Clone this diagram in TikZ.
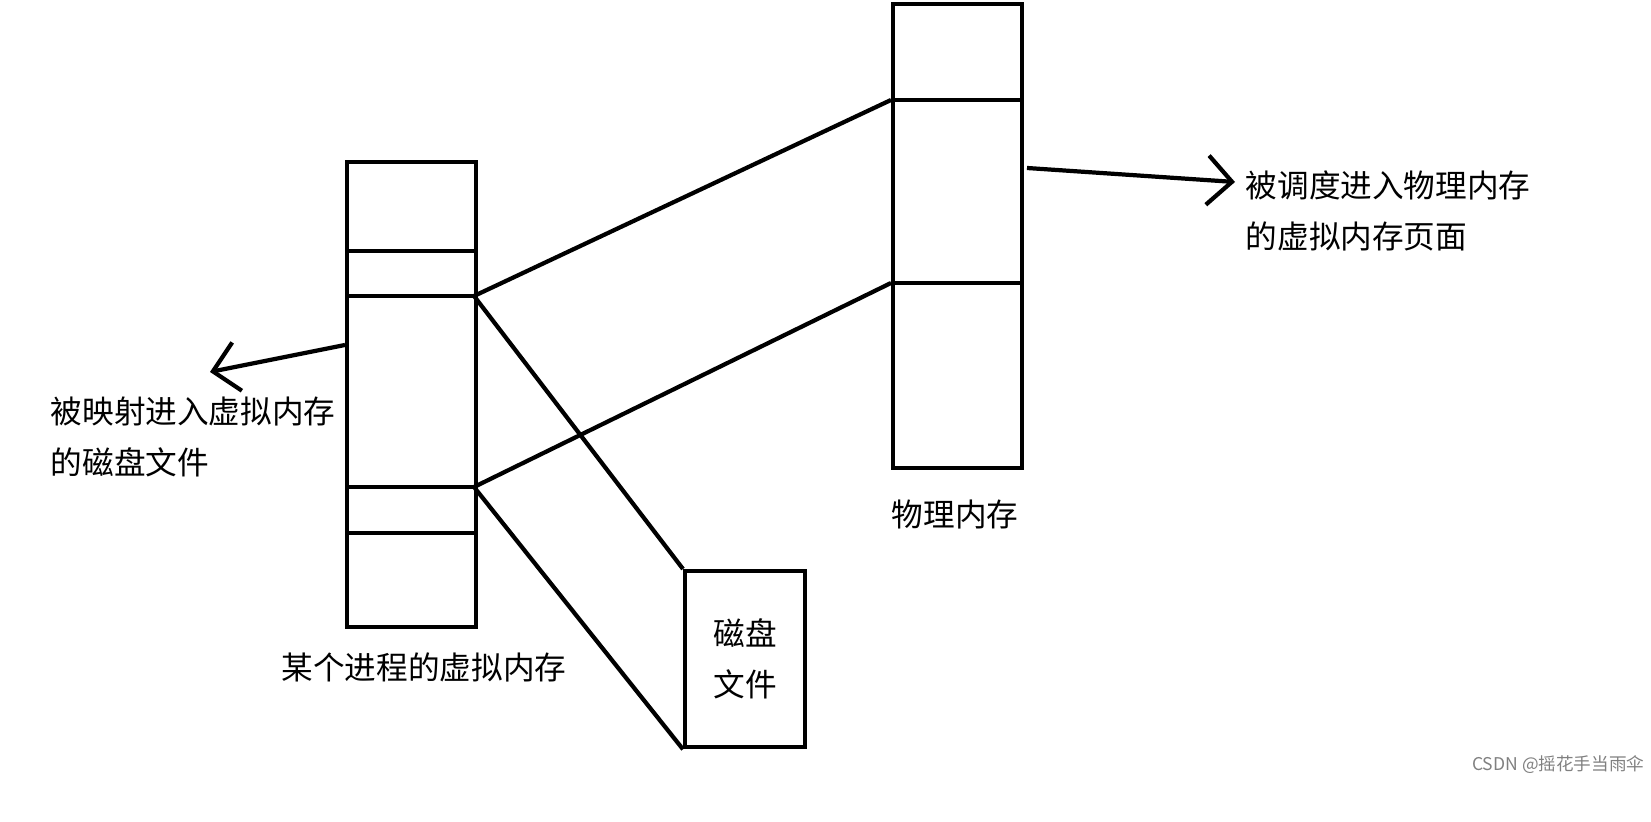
\documentclass[tikz,border=0pt]{standalone}
\usepackage{fontspec}
\newfontfamily\cjk{Noto Sans CJK SC}
\usetikzlibrary{positioning, arrows.meta}

\begin{document}
\begin{tikzpicture}[x=0.01cm, y=-0.01cm,
		box/.style={draw, line width=1.2pt, inner sep=0pt},
		wire/.style={line width=1.2pt},
		pointer/.style={line width=1.2pt, -{Straight Barb[length=7pt, width=14pt, line width=1.2pt]}},
		label/.style={font=\cjk\fontsize{9pt}{14.5pt}\selectfont, inner sep=0pt}]
	
	\useasboundingbox (0,0) rectangle (1651,822);
	
	% virtual memory of the process
	\node[box, anchor=north west, minimum width=1.29cm, minimum height=4.65cm] (vm) at (345,160) {};
	\coordinate (vm1) at (474,296);
	\coordinate (vm2) at (474,487);
	\draw[wire] (345,251) -- (474,251);
	\draw[wire] (345,296) -- (vm1);
	\draw[wire] (345,487) -- (vm2);
	\draw[wire] (345,533) -- (474,533);
	
	% physical memory
	\node[box, anchor=north west, minimum width=1.29cm, minimum height=4.64cm] (pm) at (891,2) {};
	\coordinate (pm1) at (891,100);
	\coordinate (pm2) at (891,283);
	\draw[wire] (pm1) -- (1020,100);
	\draw[wire] (pm2) -- (1020,283);
	
	% disk file
	\node[box, anchor=north west, minimum width=1.20cm, minimum height=1.76cm,
		label, align=center, font=\cjk\fontsize{9pt}{14.5pt}\selectfont] (disk) at (683,569) {磁盘\\文件};
	
	\draw[wire] (vm1) -- (pm1);
	\draw[wire] (vm2) -- (pm2);
	\draw[wire] (vm1) -- (disk.north west);
	\draw[wire] (vm2) -- (disk.south west);
	
	% labels
	\coordinate (a1) at (345,345);
	\node[label, anchor=north west, align=left] (mapped) at (50,396) {被映射进入虚拟内存\\的磁盘文件};
	\draw[pointer] (a1) -- (210,372);
	\coordinate (a2) at (1027,168);
	\node[label, anchor=north west, align=left] (paged) at (1245,170) {被调度进入物理内存\\的虚拟内存页面};
	\draw[pointer] (a2) -- (1235,182);
	
	\node[label] (pmname) at (955,515) {物理内存};
	\node[label] (vmname) at (424,667) {某个进程的虚拟内存};
	\node[label, font=\cjk\fontsize{5pt}{6pt}\selectfont, text=gray, anchor=east] (mark) at (1645,765) {CSDN @摇花手当雨伞};
\end{tikzpicture}
\end{document}
